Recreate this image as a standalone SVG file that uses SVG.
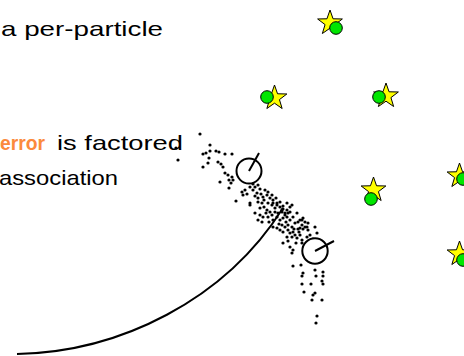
<svg xmlns="http://www.w3.org/2000/svg" width="464" height="356" viewBox="0 0 464 356">
<style>
.t{font-family:"Liberation Sans",Arial,sans-serif;font-size:21px;fill:#000}
.o{fill:#fb8a3c;font-weight:bold}
.d{fill:#000}
.star{fill:#ffff00;stroke:#000;stroke-width:1}
.lm{fill:#00e600;stroke:#000;stroke-width:1}
.pc{fill:#fff;stroke:#000;stroke-width:2}
.ln{stroke:#000;stroke-width:2;fill:none}
</style>
<defs>
<path id="st" d="M0,-13 L3.06,-4.21 L12.36,-4.02 L4.95,1.61 L7.64,10.52 L0,5.2 L-7.64,10.52 L-4.95,1.61 L-12.36,-4.02 L-3.06,-4.21 Z"/>
<circle id="p" r="1.6"/>
</defs>
<g id="text">
<text class="t" x="1" y="36" textLength="162" lengthAdjust="spacingAndGlyphs">a per-particle</text>
<text class="t o" x="0" y="150" textLength="45" lengthAdjust="spacingAndGlyphs">error</text>
<text class="t" x="57" y="150" textLength="126" lengthAdjust="spacingAndGlyphs">is factored</text>
<text class="t" x="-1" y="185" textLength="119" lengthAdjust="spacingAndGlyphs">association</text>
</g>
<g id="landmarks">
<g id="lm1"><use href="#st" class="star" x="330" y="23"/><circle class="lm" cx="336" cy="28" r="6.3"/></g>
<g id="lm2"><use href="#st" class="star" x="274.5" y="98"/><circle class="lm" cx="267" cy="97" r="6.3"/></g>
<g id="lm3"><use href="#st" class="star" x="386" y="96"/><circle class="lm" cx="379" cy="97" r="6.3"/></g>
<g id="lm4"><use href="#st" class="star" x="373.5" y="190"/><circle class="lm" cx="371" cy="199" r="6.3"/></g>
<g id="lm5"><use href="#st" class="star" x="459.5" y="176"/><circle class="lm" cx="463" cy="179" r="6.3"/></g>
<g id="lm6"><use href="#st" class="star" x="459.5" y="254"/><circle class="lm" cx="463" cy="260" r="6.3"/></g>
</g>
<g id="particles" class="d">
<use href="#p" x="200" y="134"/><use href="#p" x="210" y="145"/><use href="#p" x="176" y="148"/><use href="#p" x="178" y="160"/>
<use href="#p" x="203" y="154"/><use href="#p" x="206" y="153"/><use href="#p" x="210" y="151"/><use href="#p" x="216" y="151"/>
<use href="#p" x="219" y="152"/><use href="#p" x="225" y="154"/><use href="#p" x="232" y="154"/><use href="#p" x="209" y="158"/>
<use href="#p" x="218" y="162"/><use href="#p" x="221" y="164"/><use href="#p" x="223" y="167"/><use href="#p" x="203" y="167"/>
<use href="#p" x="208" y="163"/><use href="#p" x="225" y="173"/><use href="#p" x="228" y="175"/><use href="#p" x="232" y="177"/>
<use href="#p" x="220" y="182"/><use href="#p" x="229" y="180"/><use href="#p" x="231" y="183"/><use href="#p" x="233" y="180"/>
<use href="#p" x="229" y="188"/><use href="#p" x="236" y="201"/><use href="#p" x="250" y="205"/>
<use href="#p" x="242" y="192"/><use href="#p" x="245" y="190"/><use href="#p" x="247" y="194"/><use href="#p" x="243" y="195"/>
<use href="#p" x="250" y="187"/><use href="#p" x="253" y="184"/><use href="#p" x="255" y="187"/><use href="#p" x="253" y="190"/>
<use href="#p" x="258" y="185"/><use href="#p" x="260" y="189"/><use href="#p" x="257" y="193"/><use href="#p" x="261" y="194"/>
<use href="#p" x="263" y="197"/><use href="#p" x="258" y="198"/><use href="#p" x="265" y="190"/><use href="#p" x="268" y="192"/>
<use href="#p" x="267" y="195"/><use href="#p" x="272" y="195"/><use href="#p" x="270" y="198"/><use href="#p" x="273" y="200"/>
<use href="#p" x="250" y="203"/><use href="#p" x="258" y="202"/><use href="#p" x="262" y="203"/><use href="#p" x="264" y="207"/>
<use href="#p" x="260" y="208"/><use href="#p" x="268" y="203"/><use href="#p" x="272" y="205"/><use href="#p" x="275" y="208"/>
<use href="#p" x="277" y="203"/><use href="#p" x="255" y="213"/><use href="#p" x="260" y="215"/><use href="#p" x="263" y="217"/>
<use href="#p" x="258" y="220"/><use href="#p" x="262" y="222"/><use href="#p" x="267" y="210"/><use href="#p" x="270" y="212"/>
<use href="#p" x="272" y="215"/><use href="#p" x="268" y="217"/><use href="#p" x="273" y="220"/><use href="#p" x="280" y="207"/>
<use href="#p" x="283" y="209"/><use href="#p" x="282" y="212"/><use href="#p" x="287" y="210"/><use href="#p" x="285" y="213"/>
<use href="#p" x="290" y="212"/><use href="#p" x="277" y="217"/><use href="#p" x="280" y="220"/><use href="#p" x="283" y="218"/>
<use href="#p" x="287" y="217"/><use href="#p" x="290" y="220"/><use href="#p" x="293" y="217"/><use href="#p" x="297" y="213"/>
<use href="#p" x="273" y="227"/><use href="#p" x="277" y="228"/><use href="#p" x="282" y="225"/><use href="#p" x="285" y="227"/>
<use href="#p" x="288" y="225"/><use href="#p" x="292" y="227"/><use href="#p" x="295" y="223"/><use href="#p" x="298" y="222"/>
<use href="#p" x="302" y="220"/><use href="#p" x="305" y="222"/><use href="#p" x="308" y="223"/><use href="#p" x="300" y="228"/>
<use href="#p" x="303" y="229"/><use href="#p" x="307" y="227"/>
<use href="#p" x="273" y="203"/><use href="#p" x="277" y="205"/><use href="#p" x="280" y="202"/><use href="#p" x="283" y="206"/>
<use href="#p" x="287" y="203"/><use href="#p" x="290" y="207"/><use href="#p" x="275" y="212"/><use href="#p" x="278" y="213"/>
<use href="#p" x="282" y="210"/><use href="#p" x="285" y="215"/><use href="#p" x="288" y="213"/><use href="#p" x="292" y="205"/>
<use href="#p" x="303" y="218"/><use href="#p" x="302" y="225"/><use href="#p" x="305" y="227"/><use href="#p" x="298" y="229"/>
<use href="#p" x="283" y="232"/><use href="#p" x="288" y="230"/><use href="#p" x="290" y="233"/><use href="#p" x="293" y="232"/>
<use href="#p" x="287" y="237"/><use href="#p" x="292" y="237"/><use href="#p" x="295" y="235"/><use href="#p" x="297" y="238"/>
<use href="#p" x="300" y="235"/><use href="#p" x="302" y="240"/><use href="#p" x="307" y="237"/><use href="#p" x="310" y="235"/>
<use href="#p" x="308" y="242"/><use href="#p" x="313" y="239"/><use href="#p" x="283" y="243"/><use href="#p" x="290" y="247"/>
<use href="#p" x="293" y="250"/><use href="#p" x="302" y="243"/><use href="#p" x="292" y="253"/><use href="#p" x="317" y="233"/>
<use href="#p" x="308" y="230"/><use href="#p" x="315" y="227"/><use href="#p" x="300" y="220"/>
<use href="#p" x="264" y="200"/><use href="#p" x="266" y="213"/><use href="#p" x="279" y="224"/><use href="#p" x="286" y="222"/>
<use href="#p" x="294" y="229"/><use href="#p" x="296" y="243"/><use href="#p" x="288" y="241"/><use href="#p" x="299" y="232"/>
<use href="#p" x="276" y="198"/><use href="#p" x="255" y="196"/><use href="#p" x="269" y="222"/><use href="#p" x="280" y="230"/>
<use href="#p" x="293" y="266"/><use href="#p" x="301" y="265"/><use href="#p" x="303" y="273"/><use href="#p" x="315" y="270"/>
<use href="#p" x="323" y="272"/><use href="#p" x="302" y="276"/><use href="#p" x="316" y="276"/><use href="#p" x="323" y="276"/>
<use href="#p" x="322" y="281"/><use href="#p" x="302" y="284"/><use href="#p" x="311" y="284"/><use href="#p" x="323" y="284"/>
<use href="#p" x="304" y="292"/><use href="#p" x="313" y="295"/><use href="#p" x="315" y="293"/><use href="#p" x="312" y="300"/>
<use href="#p" x="322" y="300"/><use href="#p" x="317" y="316"/><use href="#p" x="316" y="323"/>
</g>
<g id="connectors">
<path class="ln" d="M17,354 C120,352 225,300 283,208"/>
</g>
<g id="robot1">
<circle class="pc" cx="249" cy="171" r="12.5"/>
<line class="ln" x1="249" y1="171" x2="259" y2="153"/>
</g>
<g id="robot2">
<circle class="pc" cx="315" cy="251" r="12.7"/>
<line class="ln" x1="315" y1="251" x2="334" y2="241"/>
</g>
</svg>
